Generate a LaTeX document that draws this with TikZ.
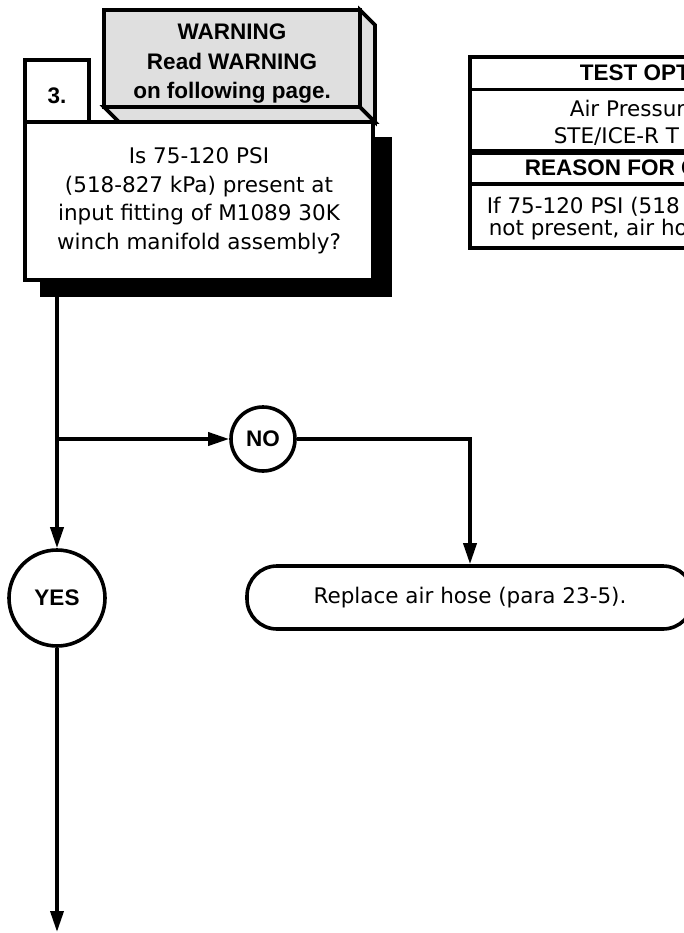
\documentclass[tikz,border=0pt]{standalone}
\usepackage{fontspec}
\setmainfont{DejaVu Sans}
\newfontfamily\headfont{Liberation Sans}
\newcommand\bodysize{\fontsize{21.5}{28.5}\selectfont}
\newcommand\headsize{\fontsize{22.5}{29.5}\selectfont\headfont\bfseries}
\usetikzlibrary{arrows.meta}
\tikzset{
  flow/.style={-{Triangle[length=21pt,width=13pt]}},
  qbox/.style={draw, fill=white, inner sep=0pt, align=center},
  bubble/.style={draw, circle, fill=white, inner sep=0pt, font=\headsize},
  cell/.style={anchor=west, inner sep=0pt},
}
\begin{document}
\begin{tikzpicture}[x=1pt, y=-1pt, line width=3.6pt, line join=miter, font=\bodysize]
  \def\qx{199}\def\qy{201}
  \def\bx{57}\def\sy{439}
  \path[use as bounding box, clip] (0,0) rectangle (684,933);
  \fill[white] (0,0) rectangle (684,933);
  \coordinate (qout) at (\bx,280);
  \coordinate (split) at (\bx,\sy);
  \coordinate (tail) at (\bx,932);
  \draw (qout) -- (split);
  \fill (40,137) rectangle (392,297);
  \filldraw[fill=gray!25] (104,107) -- (360,107) -- (375,122) -- (119,122) -- cycle;
  \filldraw[fill=gray!25] (360,10) -- (375,25) -- (375,122) -- (360,107) -- cycle;
  \filldraw[fill=gray!25] (104,10) rectangle (360,107);
  \node[align=center, font=\headsize] (warn) at (232,64)
    {WARNING\\Read WARNING\\on following page.};
  \node[qbox, minimum width=64pt, minimum height=63pt, font=\headsize,
    text height=25pt, text depth=0pt] (stepno) at (57,91.5) {3.};
  \node[qbox, minimum width=348pt, minimum height=158pt] (q) at (\qx,\qy)
    {Is 75-120 PSI\\ (518-827 kPa) present at\\input fitting of M1089 30K\\ winch manifold assembly?};
  \node[bubble, minimum size=64pt] (no) at (263,\sy) {NO};
  \node[bubble, minimum size=96pt] (yes) at (\bx,598) {YES};
  \node[qbox, rounded corners=30pt, minimum width=446pt, minimum height=63pt] (fix) at (470,597.5)
    {Replace air hose (para 23-5).};
  \draw[flow] (split) -- (no);
  \draw[flow] (split) -- (yes);
  \draw[flow] (no) -| (fix);
  \draw[flow] (yes) -- (tail);
  \draw[line width=4.5pt] (470,57) rectangle (800,248);
  \draw[line width=3pt] (470,90) -- (800,90);
  \draw[line width=5.5pt] (470,152) -- (800,152);
  \draw[line width=4pt] (470,184) -- (800,184);
  \node[cell, font=\headsize] (thead) at (578,73) {TEST OPT};
  \node[cell] (tline1) at (568,108) {Air Pressur};
  \node[cell] (tline2) at (552,137) {STE/ICE-R T};
  \node[cell, font=\headsize] (rhead) at (523,168) {REASON FOR C};
  \node[cell] (rline1) at (485,207) {If 75-120 PSI (518};
  \node[cell] (rline2) at (487,230) {not present, air ho};
\end{tikzpicture}
\end{document}
